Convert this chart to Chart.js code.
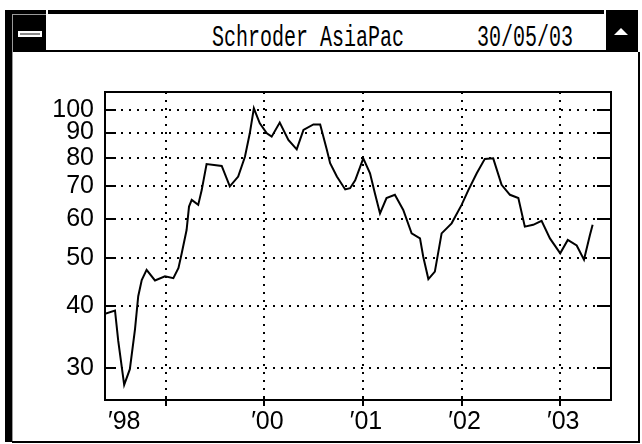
<!DOCTYPE html>
<html lang="en">
<head>
<meta charset="UTF-8">
<title>Schroder AsiaPac</title>
<script src="https://cdn.jsdelivr.net/npm/chart.js"></script>
<style>
    body { margin: 0; background: #fff; }
    #win { position: relative; width: 642px; height: 444px; overflow: hidden; background: #fff; }
    .blk { position: absolute; background: #000; }
    .gry { position: absolute; background: #9a9a9a; }
    .cap {
        position: absolute; top: 26px; height: 24px; line-height: 24px;
        font-family: 'Liberation Mono', 'DejaVu Sans Mono', monospace; font-size: 20px;
        white-space: pre; color: #000; transform: scaleY(1.5); transform-origin: 0 50%;
    }
    #dash { position: absolute; left: 18px; top: 31px; width: 24px; height: 6px; background: #fff; }
    #dash div { position: absolute; left: 2px; top: 2px; width: 20px; height: 2px; background: #8a8a8a; }
    #tri { position: absolute; left: 614px; top: 28px; width: 0; height: 0;
        border-left: 7px solid transparent; border-right: 7px solid transparent; border-bottom: 7px solid #fff; }
    canvas { position: absolute; left: 0; top: 0; }
</style>
</head>
<body>
<div id="win">
    <!-- window frame -->
    <div class="blk" style="left:5px;top:10px;width:41px;height:42px"></div>
    <div id="dash"><div></div></div>
    <div class="blk" style="left:48px;top:10px;width:556px;height:4px"></div>
    <div class="blk" style="left:606px;top:10px;width:32px;height:42px"></div>
    <div id="tri"></div>
    <div class="blk" style="left:46px;top:50px;width:560px;height:2px"></div>
    <div class="blk" style="left:5px;top:52px;width:7px;height:390px"></div>
    <div class="gry" style="left:12px;top:14px;width:1px;height:428px"></div>
    <div class="gry" style="left:12px;top:14px;width:34px;height:1px"></div>
    <div class="blk" style="left:638px;top:52px;width:2px;height:390px"></div>
    <div class="blk" style="left:12px;top:441px;width:628px;height:2px"></div>
    <div class="cap" style="left:212px">Schroder AsiaPac</div>
    <div class="cap" style="left:477px">30/05/03</div>
    <canvas id="chart" width="642" height="444"></canvas>
</div>
<script>
// Kursdaten
const dates = [
    '1998-05-21', '1998-06-27', '1998-07-09', '1998-07-31', '1998-08-21', '1998-09-09',
    '1998-09-21', '1998-10-04', '1998-10-22', '1998-11-22', '1998-12-29', '1999-01-29',
    '1999-02-17', '1999-03-01', '1999-03-19', '1999-03-28', '1999-04-07', '1999-05-01',
    '1999-05-14', '1999-06-01', '1999-07-27', '1999-08-26', '1999-09-26', '1999-10-21',
    '1999-11-08', '1999-11-23', '1999-12-15', '2000-01-10', '2000-01-28', '2000-02-27',
    '2000-03-30', '2000-04-30', '2000-05-25', '2000-07-01', '2000-07-26', '2000-08-20',
    '2000-09-01', '2000-09-26', '2000-10-27', '2000-11-14', '2000-12-03', '2001-01-02',
    '2001-01-27', '2001-02-14', '2001-03-05', '2001-03-29', '2001-04-29', '2001-05-30',
    '2001-06-30', '2001-07-31', '2001-08-12', '2001-08-31', '2001-09-24', '2001-10-19',
    '2001-11-25', '2002-01-01', '2002-01-26', '2002-02-26', '2002-03-28', '2002-04-28',
    '2002-05-29', '2002-06-29', '2002-07-30', '2002-08-23', '2002-09-23', '2002-10-24',
    '2002-11-24', '2003-01-01', '2003-01-29', '2003-03-03', '2003-03-30', '2003-04-21',
    '2003-05-01'
];
const prices = [
    38.6, 39.2, 34.0, 27.7, 29.8, 35.9,
    41.9, 45.2, 47.4, 45.1, 46.0, 45.6,
    47.8, 51.2, 57.1, 63.7, 65.7, 64.2,
    68.8, 77.7, 77.0, 70.0, 73.3, 80.4,
    89.7, 100.8, 94.0, 89.7, 88.3, 94.3,
    87.0, 83.2, 91.1, 93.5, 93.5, 83.0,
    78.0, 73.3, 69.0, 69.4, 72.0, 79.8,
    74.4, 67.8, 61.7, 66.3, 67.3, 62.7,
    56.2, 54.9, 50.4, 45.4, 47.0, 56.2,
    58.9, 64.2, 68.8, 74.4, 79.6, 79.8,
    70.5, 67.3, 66.3, 58.0, 58.5, 59.6,
    54.9, 51.2, 54.5, 53.1, 49.7, 55.8,
    58.5
];
const yTicks = [30, 40, 50, 60, 70, 80, 90, 100];
const yearTicks = [1999, 2000, 2001, 2002, 2003];
const yearLabels = { 1998: '\u203298', 1999: '', 2000: '\u203200', 2001: '\u203201', 2002: '\u203202', 2003: '\u203203' };
const xEnd = '2003-07-08';
const yMin = 25.8, yMax = 108.8;

function toYear(s) {
    const [y, m, d] = s.split('-').map(Number);
    const start = Date.UTC(y, 0, 1), end = Date.UTC(y + 1, 0, 1);
    return y + (Date.UTC(y, m - 1, d) - start) / (end - start);
}

const xMin = toYear(dates[0]);
const xMax = toYear(xEnd);

Chart.defaults.font.family = "'Liberation Sans Narrow', 'Liberation Sans', sans-serif";
Chart.defaults.font.size = 25;
Chart.defaults.color = '#000';

// Rahmen und Striche innen
const boxPlugin = {
    id: 'box',
    afterDatasetsDraw(chart) {
        const { ctx, chartArea: a, scales } = chart;
        ctx.save();
        ctx.strokeStyle = '#000';
        ctx.lineWidth = 2;
        ctx.strokeRect(a.left, a.top, a.right - a.left, a.bottom - a.top);
        ctx.beginPath();
        yTicks.forEach(v => {
            const py = Math.round(scales.y.getPixelForValue(v));
            ctx.moveTo(a.left, py); ctx.lineTo(a.left + 11, py);
            ctx.moveTo(a.right - 14, py); ctx.lineTo(a.right, py);
        });
        yearTicks.forEach(v => {
            const px = Math.round(scales.x.getPixelForValue(v));
            ctx.moveTo(px, a.bottom - 4); ctx.lineTo(px, a.bottom + 6);
        });
        ctx.stroke();
        ctx.restore();
    }
};

new Chart(document.getElementById('chart'), {
    type: 'line',
    data: {
        datasets: [{
            data: dates.map((d, i) => ({ x: toYear(d), y: prices[i] })),
            borderColor: '#000',
            borderWidth: 2,
            pointRadius: 0,
            tension: 0,
            fill: false
        }]
    },
    options: {
        responsive: false,
        animation: false,
        layout: { autoPadding: false, padding: { top: 92, right: 31, left: 0, bottom: 0 } },
        plugins: { legend: { display: false }, tooltip: { enabled: false } },
        scales: {
            x: {
                type: 'linear',
                min: xMin,
                max: xMax,
                afterBuildTicks: s => { s.ticks = [xMin, ...yearTicks, xMax].map(v => ({ value: v })); },
                afterFit: s => { s.height = 44; },
                border: { display: false, dash: [2, 6] },
                grid: {
                    drawTicks: false,
                    lineWidth: 2,
                    color: c => (c.tick && (c.tick.value === xMin || c.tick.value === xMax)) ? 'rgba(0,0,0,0)' : '#000'
                },
                ticks: {
                    autoSkip: false,
                    maxRotation: 0,
                    align: 'inner',
                    padding: 7,
                    labelOffset: 3,
                    callback: v => v === xMin ? yearLabels[1998] : (yearLabels[v] ?? '')
                }
            },
            y: {
                type: 'logarithmic',
                min: yMin,
                max: yMax,
                afterBuildTicks: s => { s.ticks = yTicks.map(v => ({ value: v })); },
                afterFit: s => { s.width = 105; },
                border: { display: false, dash: [2, 6] },
                grid: { drawTicks: false, lineWidth: 2, color: '#000' },
                ticks: { padding: 11, callback: v => String(v) }
            }
        }
    },
    plugins: [boxPlugin]
});
</script>
</body>
</html>
